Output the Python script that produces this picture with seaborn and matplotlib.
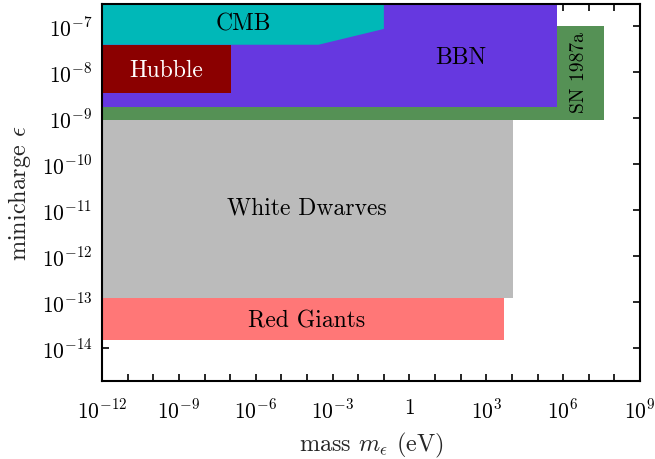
import numpy as np
import matplotlib
matplotlib.use("Agg")
import matplotlib.pyplot as plt
import matplotlib.ticker as mticker
import seaborn as sns

# ---- data: constraint regions (mass in eV, minicharge epsilon) ----
sn_x = [1e-12, 4e7, 4e7, 1e-12]
sn_y = [9e-10, 9e-10, 1e-7, 1e-7]

bbn_x = [1e-12, 6e5, 6e5, 1e-12]
bbn_y = [1.7e-9, 1.7e-9, 1e-5, 1e-5]

cmb_x = [1e-12, 2.8e-4, 0.1, 0.1, 1e-12]
cmb_y = [3.9e-8, 3.9e-8, 8.6e-8, 1e-5, 1e-5]

hubble_x = [1e-12, 1.1e-7, 1.1e-7, 1e-12]
hubble_y = [3.5e-9, 3.5e-9, 3.9e-8, 3.9e-8]

wd_x = [1e-12, 1.1e4, 1.1e4, 1e-12]
wd_y = [1.2e-13, 1.2e-13, 9e-10, 9e-10]

rg_x = [1e-12, 5e3, 5e3, 1e-12]
rg_y = [1.5e-14, 1.5e-14, 1.2e-13, 1.2e-13]

region_names = ["SN 1987a", "BBN", "CMB", "Hubble", "White Dwarves", "Red Giants"]
region_colors = ["#559155", "#6638E0", "#00B8B8", "#8B0000", "#BBBBBB", "#FF7777"]
label_x = [10**6.63, 1e2, 10**-6.5, 10**-9.5, 1e-4, 1e-4]
label_y = [10**-8.0, 10**-7.67, 10**-6.94, 10**-7.95, 10**-10.95, 10**-13.39]
label_colors = ["black", "black", "black", "white", "black", "black"]
label_rot = [90, 0, 0, 0, 0, 0]

x_ticks = [10.0**k for k in range(-12, 10)]
x_labeled = [-12, -9, -6, -3, 0, 3, 6, 9]
y_ticks = [10.0**k for k in range(-14, -6)]

sns.set_theme(style="ticks")
plt.rcParams["font.family"] = ["cmr10", "DejaVu Sans"]
plt.rcParams["mathtext.fontset"] = "cm"
plt.rcParams["axes.unicode_minus"] = False
plt.rcParams["axes.formatter.use_mathtext"] = True

fig = plt.figure(figsize=(6.55, 4.6), dpi=100)
ax = fig.add_axes([0.156, 0.170, 0.821, 0.819])

polys = [(sn_x, sn_y), (bbn_x, bbn_y), (cmb_x, cmb_y), (hubble_x, hubble_y),
         (wd_x, wd_y), (rg_x, rg_y)]
for (px, py), c in zip(polys, region_colors):
    ax.fill(px, py, color=c, lw=0)

for name, lx, ly, lc, rot in zip(region_names, label_x, label_y, label_colors, label_rot):
    ax.text(lx, ly, name, color=lc, rotation=rot, ha="center", va="center",
            fontsize=17 if rot == 0 else 14)

ax.set_xscale("log")
ax.set_yscale("log")
ax.set_xlim(1e-12, 1e9)
ax.set_ylim(10**-14.71, 10**-6.525)

ax.xaxis.set_major_locator(mticker.FixedLocator(x_ticks))
ax.xaxis.set_minor_locator(mticker.NullLocator())
ax.yaxis.set_major_locator(mticker.FixedLocator(y_ticks))
ax.yaxis.set_minor_locator(mticker.NullLocator())

def xfmt(v, pos):
    e = int(round(np.log10(v)))
    if e not in x_labeled:
        return ""
    if e == 0:
        return "$1$"
    return r"$10^{%d}$" % e

def yfmt(v, pos):
    e = int(round(np.log10(v)))
    return r"$10^{%d}$" % e

ax.xaxis.set_major_formatter(mticker.FuncFormatter(xfmt))
ax.yaxis.set_major_formatter(mticker.FuncFormatter(yfmt))

ax.tick_params(which="both", direction="in", top=True, right=True,
               length=5, width=1.2, labelsize=15.5, colors="black")
ax.tick_params(axis="x", pad=12)
ax.tick_params(axis="y", pad=7)
for s in ax.spines.values():
    s.set_linewidth(1.5)
    s.set_color("black")

ax.set_xlabel(r"mass $m_\epsilon$ (eV)", fontsize=17.5, labelpad=6)
ax.set_ylabel(r"minicharge $\epsilon$", fontsize=17.5, labelpad=6)

fig.savefig("out.png", dpi=100)
